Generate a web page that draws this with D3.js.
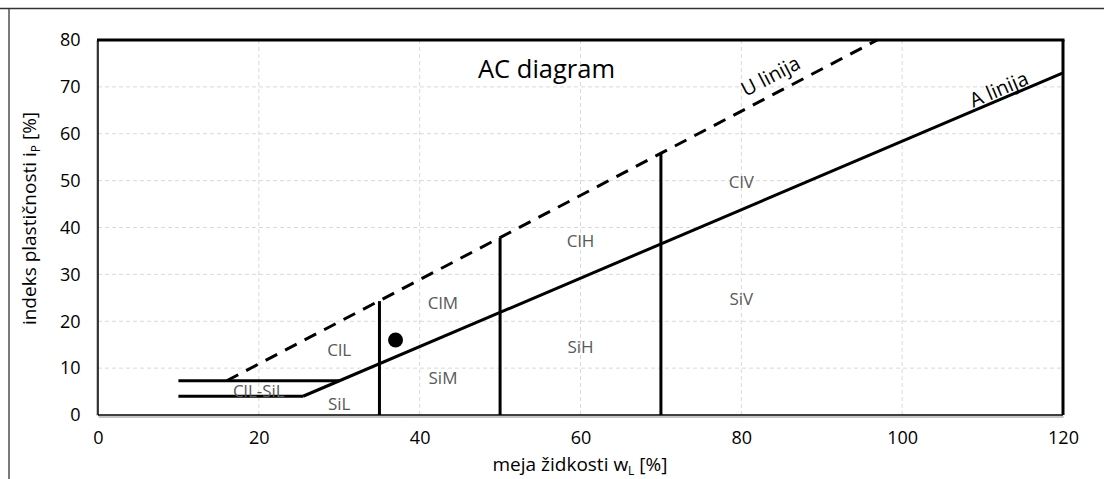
<!DOCTYPE html>
<html>
<head>
<meta charset="utf-8">
<script src="https://cdn.jsdelivr.net/npm/d3@7/dist/d3.min.js"></script>
<style>
  html, body { margin: 0; padding: 0; background: #fff; }
  svg { display: block; font-family: "Open Sans", "Noto Sans", sans-serif; }
</style>
</head>
<body>
<svg id="chart" width="1104" height="479"></svg>
<script>
// ---- data ----
const xTicks = [0, 20, 40, 60, 80, 100, 120];
const yTicks = [0, 10, 20, 30, 40, 50, 60, 70, 80];
const aLine = [[25.5, 4], [120, 73]];
const uLine = [[16, 7.3], [96.9, 80]];
const clmlUpper = [[10, 7.3], [30, 7.3]];
const clmlLower = [[10, 4], [25.5, 4]];
const verticalX = [35, 50, 70];
const verticalTop = [24.3, 37.8, 55.8];
const samplePoint = [[37, 16]];
const zoneNames = ["ClL", "ClM", "SiM", "SiL", "ClL-SiL", "ClH", "SiH", "ClV", "SiV"];
const zoneX = [30, 42.9, 42.9, 30, 20, 60, 60, 80, 80];
const zoneY = [13.9, 23.9, 7.9, 2.5, 5.3, 37.2, 14.7, 49.9, 24.8];
const lineLabels = ["U linija", "A linija"];
const lineLabelX = [83.6, 112.0];
const lineLabelY = [72.4, 69.6];

// ---- layout ----
const svg = d3.select("#chart");
const m = { left: 98, top: 40, right: 1063, bottom: 415 };
const x = d3.scaleLinear().domain([0, 120]).range([m.left, m.right]);
const y = d3.scaleLinear().domain([0, 80]).range([m.bottom, m.top]);

// outer frame lines
svg.append("line").attr("x1", 0).attr("x2", 1104).attr("y1", 8.5).attr("y2", 8.5)
  .attr("stroke", "#333").attr("stroke-width", 1.3);
svg.append("line").attr("x1", 9).attr("x2", 9).attr("y1", 8).attr("y2", 479)
  .attr("stroke", "#333").attr("stroke-width", 1.3);

// grid
svg.append("g").selectAll("line").data(xTicks.slice(1, -1)).join("line")
  .attr("x1", d => x(d)).attr("x2", d => x(d)).attr("y1", m.top).attr("y2", m.bottom)
  .attr("stroke", "#d9d9d9").attr("stroke-width", 1).attr("stroke-dasharray", "4,3");
svg.append("g").selectAll("line").data(yTicks.slice(1, -1)).join("line")
  .attr("x1", m.left).attr("x2", m.right).attr("y1", d => y(d)).attr("y2", d => y(d))
  .attr("stroke", "#d9d9d9").attr("stroke-width", 1).attr("stroke-dasharray", "4,3");

// axes (gray) with labels
const xAxis = d3.axisBottom(x).tickValues(xTicks).tickSize(0).tickPadding(15);
const gx = svg.append("g").attr("transform", `translate(0,${m.bottom + 1.5})`).call(xAxis);
gx.select(".domain").attr("stroke", "#8c8c8c").attr("stroke-width", 1);
gx.selectAll("text").attr("font-size", 18).attr("fill", "#000").attr("font-family", "Open Sans");

const yAxis = d3.axisLeft(y).tickValues(yTicks).tickSize(0).tickPadding(16);
const gy = svg.append("g").attr("transform", `translate(${m.left - 1.5},0)`).call(yAxis);
gy.select(".domain").attr("stroke", "#8c8c8c").attr("stroke-width", 1);
gy.selectAll("text").attr("font-size", 18).attr("fill", "#000").attr("font-family", "Open Sans");

// plot frame
svg.append("line").attr("x1", m.left).attr("x2", m.right).attr("y1", m.bottom).attr("y2", m.bottom)
  .attr("stroke", "#000").attr("stroke-width", 1.5);
svg.append("line").attr("x1", m.left).attr("x2", m.left).attr("y1", m.top).attr("y2", m.bottom)
  .attr("stroke", "#000").attr("stroke-width", 1.5);
svg.append("line").attr("x1", m.left - 1).attr("x2", m.right + 1.5).attr("y1", m.top).attr("y2", m.top)
  .attr("stroke", "#000").attr("stroke-width", 3);
svg.append("line").attr("x1", m.right).attr("x2", m.right).attr("y1", m.top).attr("y2", m.bottom)
  .attr("stroke", "#000").attr("stroke-width", 3);

// lines
const line = d3.line().x(d => x(d[0])).y(d => y(d[1]));
const solid = [aLine, clmlUpper, clmlLower];
svg.append("g").selectAll("path").data(solid).join("path")
  .attr("d", line).attr("fill", "none").attr("stroke", "#000").attr("stroke-width", 3);
svg.append("path").datum(uLine).attr("d", line).attr("fill", "none")
  .attr("stroke", "#000").attr("stroke-width", 3).attr("stroke-dasharray", "13,9");
svg.append("g").selectAll("line").data(verticalX).join("line")
  .attr("x1", d => x(d)).attr("x2", d => x(d))
  .attr("y1", y(0)).attr("y2", (d, i) => y(verticalTop[i]))
  .attr("stroke", "#000").attr("stroke-width", 3);

// sample point
svg.append("g").selectAll("circle").data(samplePoint).join("circle")
  .attr("cx", d => x(d[0])).attr("cy", d => y(d[1])).attr("r", 7.5).attr("fill", "#000");

// zone labels
svg.append("g").selectAll("text").data(zoneNames).join("text")
  .attr("x", (d, i) => x(zoneX[i])).attr("y", (d, i) => y(zoneY[i]))
  .attr("text-anchor", "middle").attr("dominant-baseline", "central")
  .attr("font-size", 17).attr("fill", "#595959").text(d => d);

// line labels (rotated along lines)
const slopeAngle = (seg) => Math.atan2(y(seg[1][1]) - y(seg[0][1]), x(seg[1][0]) - x(seg[0][0])) * 180 / Math.PI;
const angles = [slopeAngle(uLine), slopeAngle(aLine)];
svg.append("g").selectAll("text").data(lineLabels).join("text")
  .attr("transform", (d, i) => `translate(${x(lineLabelX[i])},${y(lineLabelY[i])}) rotate(${angles[i]})`)
  .attr("text-anchor", "middle").attr("dominant-baseline", "central")
  .attr("font-size", 20).attr("fill", "#000").text(d => d);

// title
svg.append("text").attr("x", 546.5).attr("y", 78).attr("text-anchor", "middle")
  .attr("font-size", 25.5).attr("fill", "#000").text("AC diagram");

// axis titles
const xt = svg.append("text").attr("x", 580).attr("y", 471).attr("text-anchor", "middle")
  .attr("font-size", 19).attr("fill", "#000");
xt.append("tspan").text("meja židkosti w");
xt.append("tspan").attr("font-size", 12).attr("dy", 4).text("L");
xt.append("tspan").attr("dy", -4).text(" [%]");

const yt = svg.append("text").attr("transform", `translate(36,218.5) rotate(-90)`)
  .attr("text-anchor", "middle").attr("font-size", 19).attr("fill", "#000");
yt.append("tspan").text("indeks plastičnosti i");
yt.append("tspan").attr("font-size", 12).attr("dy", 4).text("P");
yt.append("tspan").attr("dy", -4).text(" [%]");
</script>
</body>
</html>
